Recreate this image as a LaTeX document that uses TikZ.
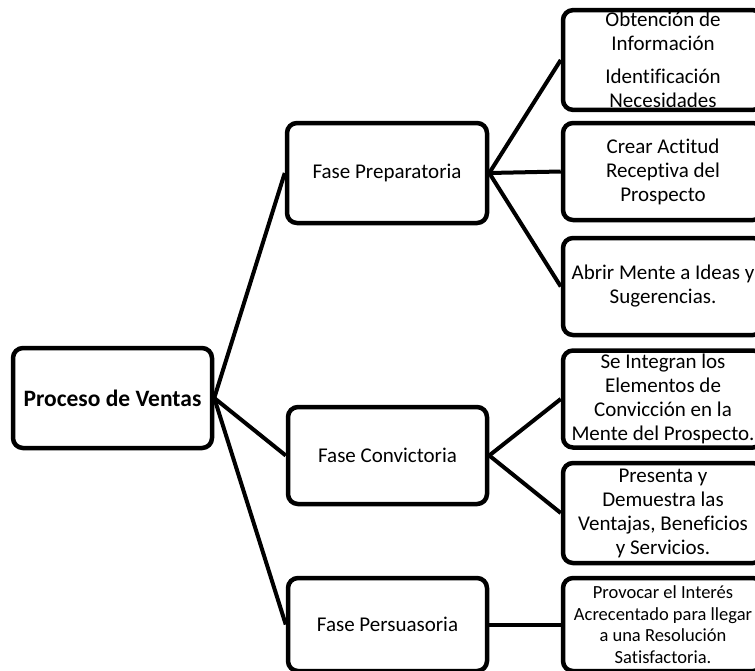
\documentclass[tikz,border=0pt]{standalone}
\usepackage{fontspec}
\setmainfont{Carlito}[Ligatures=NoCommon]
\usetikzlibrary{positioning}

\begin{document}
\begin{tikzpicture}[
    x=1pt, y=-1pt,
every node/.style={align=center, font=\fontsize{21}{24}\selectfont},
fasebox/.style={draw, line width=4.5pt, rounded corners=10pt, inner sep=2pt,
  minimum width=199pt, minimum height=97pt},
ideabox/.style={fasebox, minimum width=200pt},
link/.style={line width=4pt},
]
\useasboundingbox (0,0) rectangle (755,670);
\clip (0,0) rectangle (755,670);
\node[fasebox, minimum height=100pt, font=\fontsize{23.5}{27}\selectfont\bfseries]
  (ventas) at (112.5,398) {Proceso de Ventas};
\node[fasebox, minimum width=200pt, minimum height=100pt] (preparatoria) at (387,173) {Fase Preparatoria};
\node[fasebox] (convictoria) at (387.5,455.5) {Fase Convictoria};
\node[fasebox, minimum height=93pt] (persuasoria) at (387.5,624.5) {Fase Persuasoria};
\node[ideabox, minimum height=96pt] (informacion) at (663,60)
  {Obtención de\\Información\\[9pt]Identificación\\Necesidades};
\node[ideabox] (actitud) at (663,171.5) {Crear Actitud\\Receptiva del\\Prospecto};
\node[ideabox] (mente) at (663,286.5) {Abrir Mente a Ideas y\\Sugerencias.};
\node[ideabox] (elementos) at (663,399)
  {Se Integran los\\Elementos de\\Convicción en la\\Mente del Prospecto.};
\node[ideabox, minimum height=100pt] (ventajas) at (663,513)
  {Presenta y\\Demuestra las\\Ventajas, Beneficios\\y Servicios.};
\node[ideabox, minimum height=93pt, font=\fontsize{18.5}{21.5}\selectfont] (interes) at (663,624.5)
  {Provocar el Interés\\Acrecentado para llegar\\a una Resolución\\Satisfactoria.};
\foreach \fase in {preparatoria,convictoria,persuasoria}
  \draw[link] (ventas.east) -- (\fase.west);
\foreach \idea in {informacion,actitud,mente}
  \draw[link] (preparatoria.east) -- (\idea.west);
\foreach \idea in {elementos,ventajas}
  \draw[link] (convictoria.east) -- (\idea.west);
\draw[link] (persuasoria.east) -- (interes.west);
\end{tikzpicture}
\end{document}
